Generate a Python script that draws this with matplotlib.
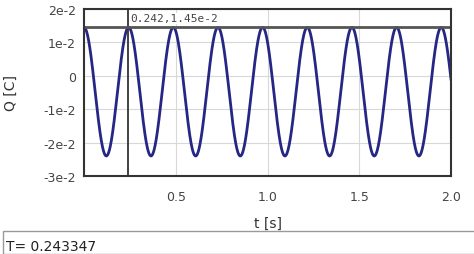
import numpy as np
from matplotlib import pyplot as plt
from matplotlib.patches import Rectangle

# oscillation
period = 0.243347
q_max = 1.45e-2
q_min = -2.4e-2
cursor_t = 0.242
cursor_q = 1.45e-2
cursor_label = "0.242,1.45e-2"

x_ticks = [0.5, 1.0, 1.5, 2.0]
x_labels = ["0.5", "1.0", "1.5", "2.0"]
y_ticks = [-3e-2, -2e-2, -1e-2, 0, 1e-2, 2e-2]
y_labels = ["-3e-2", "-2e-2", "-1e-2", "0", "1e-2", "2e-2"]

t = np.linspace(0, 2.0, 2000)
q = (q_max + q_min) / 2 + (q_max - q_min) / 2 * np.cos(2 * np.pi * t / period)

fig = plt.figure(figsize=(4.74, 2.55), dpi=100, facecolor="white")
ax = fig.add_axes([84 / 474, 78 / 255, 367 / 474, 167 / 255])

ax.plot(t, q, color="#262685", linewidth=2)
ax.axvline(cursor_t, color="#333333", linewidth=1.3)
ax.axhline(cursor_q, color="#555555", linewidth=2)
ax.text(cursor_t + 0.01, (cursor_q + 2e-2) / 2, cursor_label,
        fontsize=8, family="DejaVu Sans Mono", color="#444444", va="center",
        bbox=dict(facecolor="white", edgecolor="none", pad=0.5))

ax.set_xlim(0, 2.0)
ax.set_ylim(-3e-2, 2e-2)
ax.set_xticks(x_ticks, x_labels)
ax.set_yticks(y_ticks, y_labels)
ax.tick_params(length=0, labelsize=9, colors="#444444")
ax.tick_params(axis="x", pad=10)
ax.tick_params(axis="y", pad=6)
ax.grid(True, color="#d8d8d8", linewidth=0.8)
for s in ax.spines.values():
    s.set_color("#333333")
    s.set_linewidth(1.5)

ax.set_xlabel("t [s]", fontsize=10, color="#333333", labelpad=9)
ax.set_ylabel("Q [C]", fontsize=10, color="#333333", labelpad=18)

fig.patches.append(Rectangle((3 / 474, 0), 1, 23 / 255, transform=fig.transFigure,
                             facecolor="white", edgecolor="#999999", linewidth=1))
fig.text(6 / 474, 8 / 255, "T= %.6f" % period, fontsize=10, color="#222222", va="center")

fig.savefig("out.png", dpi=100)
